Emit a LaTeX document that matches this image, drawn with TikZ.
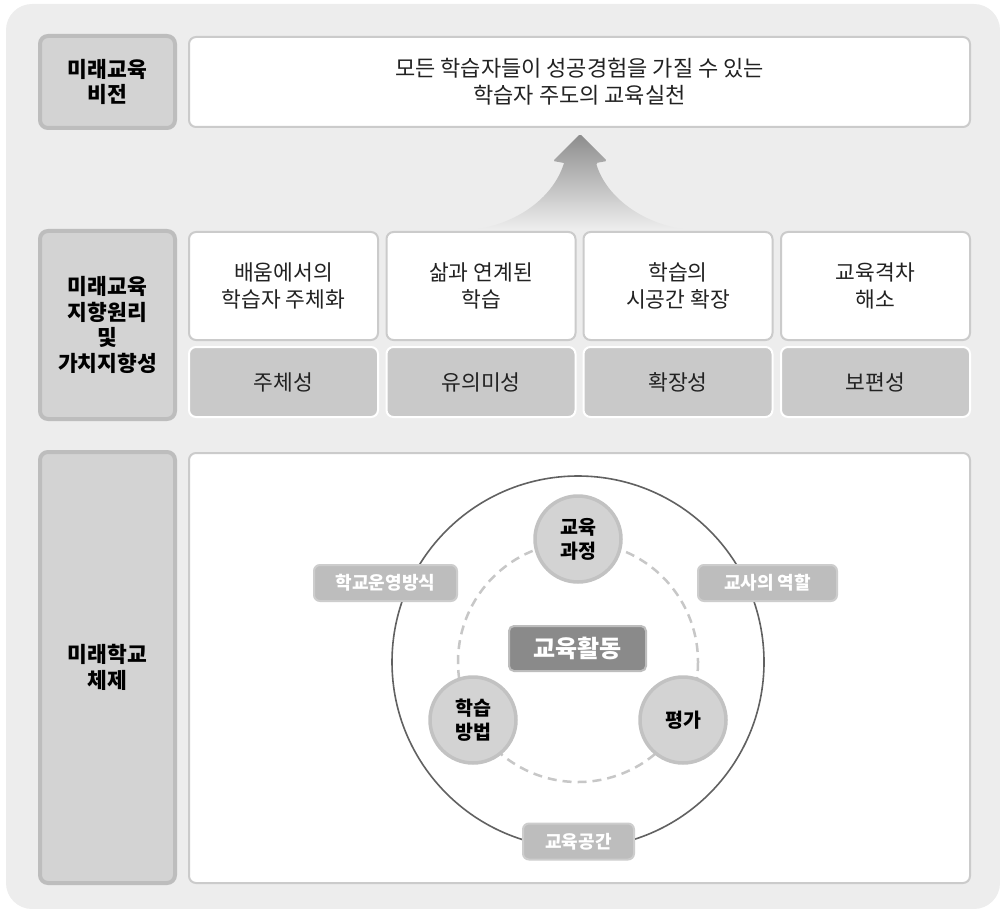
\documentclass[tikz,border=0pt]{standalone}
\usepackage{fontspec}
\setmainfont{Noto Sans CJK KR}
\begin{document}
\begin{tikzpicture}[x=1pt,y=-1pt,
  bgc/.style={fill=bgcol},
  lab/.style={draw=labbd, fill=labfill, line width=4pt, rounded corners=8pt, inner sep=0pt,
    font=\bfseries\fontsize{21.5}{25.5}\selectfont, align=center, text=black},
  wbox/.style={draw=wbd, fill=white, line width=2pt, rounded corners=7pt, inner sep=0pt,
    font=\fontsize{21.5}{27}\selectfont, align=center, text=txt},
  gcell/.style={draw=white, fill=cellfill, line width=2pt, rounded corners=7pt, inner sep=0pt,
    minimum width=189pt, minimum height=70pt, font=\fontsize{21.5}{27}\selectfont, text=txt},
  col/.style={wbox, minimum width=189pt, minimum height=108pt},
  sc/.style={circle, draw=scbd, fill=labfill, line width=3.5pt, minimum size=86pt, inner sep=0pt,
    font=\bfseries\fontsize{19.5}{24}\selectfont, align=center, text=black},
  tag/.style={draw=tagbd, fill=tagfill, line width=2pt, rounded corners=6pt, inner sep=0pt,
    minimum height=36pt, font=\bfseries\fontsize{18}{20}\selectfont, text=white}
]
\definecolor{bgcol}{HTML}{EDEDED}
\definecolor{labfill}{HTML}{D3D3D3}
\definecolor{labbd}{HTML}{BDBDBD}
\definecolor{wbd}{HTML}{CBCBCB}
\definecolor{cellfill}{HTML}{C9C9C9}
\definecolor{txt}{HTML}{222222}
\definecolor{scbd}{HTML}{C2C2C2}
\definecolor{tagfill}{HTML}{BDBDBD}
\definecolor{tagbd}{HTML}{CDCDCD}
\definecolor{darkbox}{HTML}{8A8A8A}
\useasboundingbox (0,0) rectangle (1000,909);
\fill[bgc, rounded corners=26pt] (6,4) rectangle (1000,909);

% arrow
\shade[top color=black!45, bottom color=bgcol, rounded corners=1.5pt]
  (580,134) -- (607,161) -- (596,163) [sharp corners] .. controls (606,196) and (640,222) .. (682,229)
  -- (478,229) .. controls (520,222) and (554,196) .. (564,163) [rounded corners=1.5pt] -- (553,161) -- cycle;

% row 1
\node[lab, minimum width=135pt, minimum height=92pt] (l1) at (107.5,82) {미래교육\\비전};
\node[wbox, minimum width=781pt, minimum height=90pt, font=\fontsize{22}{27}\selectfont] (vision) at (579.5,82)
  {모든 학습자들이 성공경험을 가질 수 있는\\학습자 주도의 교육실천};

% row 2
\node[lab, minimum width=135pt, minimum height=188pt] (l2) at (107.5,325) {미래교육\\지향원리\\및\\가치지향성};
\node[col] (c1) at (283.5,286) {배움에서의\\학습자 주체화};
\node[col] (c2) at (481,286) {삶과 연계된\\학습};
\node[col] (c3) at (678,286) {학습의\\시공간 확장};
\node[col] (c4) at (875.5,286) {교육격차\\해소};
\node[gcell] (g1) at (283.5,382) {주체성};
\node[gcell] (g2) at (481,382) {유의미성};
\node[gcell] (g3) at (678,382) {확장성};
\node[gcell] (g4) at (875.5,382) {보편성};

% row 3
\node[lab, minimum width=135pt, minimum height=431pt] (l3) at (107.5,667.5) {미래학교\\체제};
\node[wbox, minimum width=781pt, minimum height=430pt] (sys) at (579.5,668) {};

\coordinate (cc) at (578,662);
\draw[black!62, line width=1.6pt] (cc) circle (186);
\draw[black!22, line width=2.5pt, dash pattern=on 9pt off 6pt] (cc) circle (120);

\node[sc] (cur) at (578,539) {교육\\과정};
\node[sc] (met) at (473,720) {학습\\방법};
\node[sc] (eva) at (683,720) {평가};

\node[draw=labbd, fill=darkbox, line width=2pt, rounded corners=5pt, minimum width=137pt, minimum height=45pt,
  font=\bfseries\fontsize{24}{26}\selectfont, text=white] (act) at (577.5,648.5) {교육활동};

\node[tag, minimum width=143pt] (op) at (385.5,583) {학교운영방식};
\node[tag, minimum width=139pt] (tr) at (767.5,583) {교사의 역할};
\node[tag, minimum width=111pt] (sp) at (578.5,841.5) {교육공간};
\end{tikzpicture}
\end{document}
